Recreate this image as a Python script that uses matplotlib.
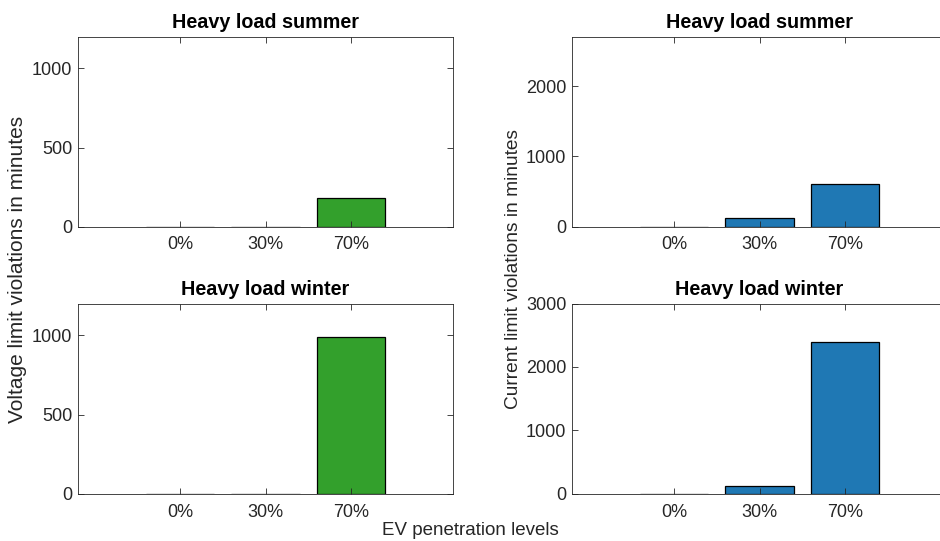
import matplotlib
matplotlib.use('Agg')
import matplotlib.pyplot as plt

# 数据
levels = ['0%', '30%', '70%']
voltage_summer = [0, 0, 180]
voltage_winter = [0, 0, 990]
current_summer = [0, 120, 600]
current_winter = [0, 120, 2400]

green = '#33a02c'
blue = '#1f78b4'
grey = '#262626'

plt.rcParams['font.family'] = ['Liberation Sans', 'DejaVu Sans']
plt.rcParams['font.size'] = 13

fig = plt.figure(figsize=(9.4, 5.41), dpi=100)

# 坐标轴位置 (右侧子图超出画布边缘，和原图一致)
panels = [
    ([0.083, 0.581, 0.399, 0.351], voltage_summer, green, 'Heavy load summer', 1200, [0, 500, 1000]),
    ([0.083, 0.087, 0.399, 0.352], voltage_winter, green, 'Heavy load winter', 1200, [0, 500, 1000]),
    ([0.6085, 0.581, 0.399, 0.351], current_summer, blue, 'Heavy load summer', 2700, [0, 1000, 2000]),
    ([0.6085, 0.087, 0.399, 0.352], current_winter, blue, 'Heavy load winter', 3000, [0, 1000, 2000, 3000]),
]

xpos = [1, 2, 3]
for rect, vals, col, title, ymax, yt in panels:
    ax = fig.add_axes(rect)
    ax.bar(xpos, vals, width=0.8, color=col, edgecolor='black', linewidth=0.9)
    ax.set_xlim(-0.2, 4.2)
    ax.set_ylim(0, ymax)
    ax.set_xticks(xpos)
    ax.set_xticklabels(levels)
    ax.set_yticks(yt)
    ax.tick_params(direction='in', top=True, right=True, length=4, width=0.6,
                   colors=grey, labelsize=13)
    ax.tick_params(axis='x', pad=7)
    ax.tick_params(axis='y', pad=4)
    for s in ax.spines.values():
        s.set_color(grey)
        s.set_linewidth(0.6)
    ax.set_title(title, fontsize=14.2, fontweight='bold', pad=6)

fig.text(0.019, 0.502, 'Voltage limit violations in minutes', rotation=90,
         ha='center', va='center', fontsize=15, color=grey)
fig.text(0.546, 0.502, 'Current limit violations in minutes', rotation=90,
         ha='center', va='center', fontsize=13.8, color=grey)
fig.text(0.5, 0.02, 'EV penetration levels', ha='center', va='center',
         fontsize=13.5, color=grey)

plt.savefig('out.png', dpi=100)
plt.close(fig)
